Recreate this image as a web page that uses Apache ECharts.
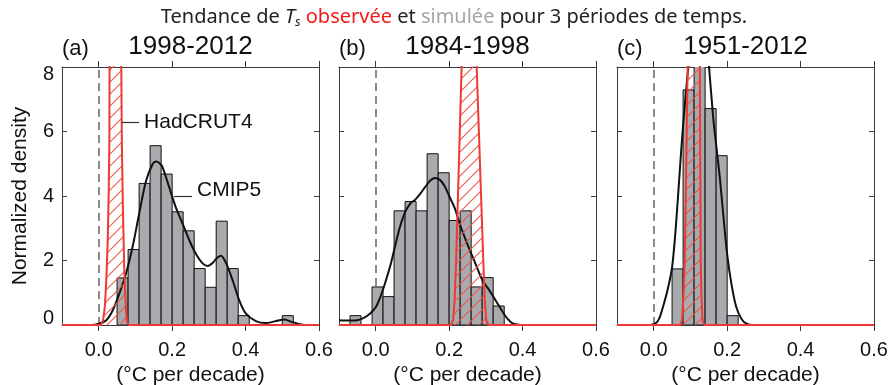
<!DOCTYPE html>
<html style="height: 100%">
<head>
<meta charset="utf-8">
<title>Tendance de Ts</title>
<script src="https://cdn.jsdelivr.net/npm/echarts@6/dist/echarts.min.js"></script>
</head>
<body style="height: 100%; margin: 0; background: #fff">
<div id="target" style="width: 891px; height: 385px"></div>
<script>
// histogram bins: left edge (bin width 0.03) and normalized density
const binWidth = 0.03;
const binsA = [0.05, 0.08, 0.11, 0.14, 0.17, 0.20, 0.23, 0.26, 0.29, 0.32, 0.35, 0.38, 0.50];
const histA = [1.46, 2.34, 4.39, 5.56, 4.68, 3.51, 2.92, 1.75, 1.17, 3.22, 1.75, 0.29, 0.29];
const binsB = [-0.07, -0.01, 0.02, 0.05, 0.08, 0.11, 0.14, 0.17, 0.20, 0.23, 0.26, 0.29, 0.32];
const histB = [0.29, 1.18, 0.88, 3.54, 3.83, 3.54, 5.31, 4.72, 3.24, 3.54, 1.18, 1.47, 0.59];
const binsC = [0.05, 0.08, 0.11, 0.14, 0.17, 0.20];
const histC = [1.74, 7.29, 12.2, 6.71, 5.25, 0.29];

// CMIP5 density curves [trend, density]
const kdeA = [[-0.1,0],[-0.02,0],[0,0.04],[0.02,0.14],[0.038,0.45],[0.056,0.97],[0.074,1.58],[0.092,2.41],[0.11,3.44],[0.129,4.47],[0.147,4.99],[0.156,5.07],[0.165,5.02],[0.174,4.89],[0.192,4.27],[0.21,3.65],[0.229,3.13],[0.247,2.62],[0.265,2.2],[0.283,1.91],[0.297,1.83],[0.31,1.92],[0.322,2.08],[0.333,2.15],[0.346,1.94],[0.365,1.38],[0.383,0.76],[0.401,0.35],[0.428,0.12],[0.455,0.06],[0.482,0.12],[0.505,0.17],[0.528,0.09],[0.555,0.01],[0.6,0]];
const kdeB = [[-0.1,0.15],[-0.07,0.14],[-0.05,0.15],[-0.03,0.24],[-0.015,0.36],[0,0.55],[0.012,0.85],[0.025,1.28],[0.04,1.85],[0.052,2.41],[0.065,3.0],[0.08,3.5],[0.095,3.78],[0.107,3.88],[0.12,4.05],[0.134,4.27],[0.148,4.47],[0.161,4.56],[0.175,4.5],[0.188,4.3],[0.2,4.0],[0.216,3.6],[0.23,3.1],[0.243,2.7],[0.257,2.3],[0.27,1.95],[0.291,1.38],[0.305,1.15],[0.318,0.92],[0.33,0.7],[0.345,0.42],[0.36,0.18],[0.373,0.05],[0.39,0.01],[0.42,0],[0.6,0]];
const kdeC = [[-0.1,0],[-0.01,0],[0.005,0.05],[0.015,0.2],[0.025,0.55],[0.038,1.1],[0.05,1.79],[0.06,3.0],[0.071,4.78],[0.078,5.9],[0.085,6.85],[0.096,8.2],[0.11,9.6],[0.125,10.2],[0.14,9.4],[0.15,8.1],[0.162,6.43],[0.171,5.5],[0.18,4.58],[0.19,3.35],[0.2,2.2],[0.212,1.25],[0.225,0.55],[0.24,0.17],[0.253,0.04],[0.27,0],[0.6,0]];

// HadCRUT4 observed trend density (clipped above 8)
const obsA = [[-0.1,0],[0.006,0],[0.012,0.15],[0.017,0.6],[0.021,1.5],[0.0245,2.6],[0.027,4],[0.029,5.7],[0.0295,8],[0.031,14],[0.06,14],[0.0615,8],[0.063,5.7],[0.066,3.5],[0.07,1.6],[0.074,0.5],[0.077,0.1],[0.082,0],[0.6,0]];
const obsB = [[-0.1,0],[0.205,0],[0.211,0.15],[0.215,0.8],[0.219,2],[0.224,4],[0.229,6],[0.234,8],[0.237,14],[0.272,14],[0.275,8],[0.281,6],[0.287,4],[0.293,2],[0.297,0.8],[0.301,0.15],[0.307,0],[0.6,0]];
const obsC = [[-0.1,0],[0.072,0],[0.077,0.15],[0.081,0.9],[0.0845,2],[0.088,4.5],[0.091,7],[0.0925,8],[0.095,14],[0.123,14],[0.1255,8],[0.126,7],[0.127,4.5],[0.128,2],[0.13,0.9],[0.133,0.15],[0.138,0],[0.6,0]];

const panelLabels = ["(a)", "(b)", "(c)"];
const periods = ["1998-2012", "1984-1998", "1951-2012"];
const xTicks = [0, 0.2, 0.4, 0.6];

let chart = echarts.init(document.getElementById('target'));

// hatch pattern for the observed density
let hatch = document.createElement('canvas');
hatch.width = 12;
hatch.height = 12;
{
    let ctx = hatch.getContext('2d');
    ctx.strokeStyle = '#f2554c';
    ctx.lineWidth = 1.1;
    ctx.beginPath();
    ctx.moveTo(0, 12); ctx.lineTo(12, 0);
    ctx.moveTo(-6, 6); ctx.lineTo(6, -6);
    ctx.moveTo(6, 18); ctx.lineTo(18, 6);
    ctx.stroke();
}

const FONT = 'Liberation Sans';
const frame = '#3c3c3c';
const lefts = [62, 339, 617];
const gw = 257, gtop = 67, gh = 258;

let grids = [], xAxes = [], yAxes = [], series = [], graphics = [];
let hist = [[binsA, histA], [binsB, histB], [binsC, histC]];
let kde = [kdeA, kdeB, kdeC];
let obs = [obsA, obsB, obsC];

for (let i = 0; i < 3; ++i)
{
    grids.push({ left: lefts[i], top: gtop, width: gw, height: gh, outerBoundsMode: 'none', containLabel: false });

    // bottom and top x axes
    xAxes.push({
        gridIndex: i, type: 'value', min: -0.1, max: 0.6, position: 'bottom',
        name: '(°C per decade)', nameLocation: 'middle', nameGap: 38,
        nameTextStyle: { fontFamily: FONT, fontSize: 21, color: '#111' },
        axisLine: { onZero: false, lineStyle: { color: frame, width: 1 } },
        axisTick: { show: true, inside: false, length: 6, customValues: xTicks, lineStyle: { color: frame } },
        axisLabel: { customValues: xTicks, margin: 15, fontFamily: FONT, fontSize: 20, color: '#111',
                     formatter: v => v.toFixed(1) },
        splitLine: { show: false },
    });
    xAxes.push({
        gridIndex: i, type: 'value', min: -0.1, max: 0.6, position: 'top',
        axisLine: { onZero: false, lineStyle: { color: frame, width: 1 } },
        axisTick: { show: true, inside: false, length: 6, customValues: xTicks, lineStyle: { color: frame } },
        axisLabel: { show: false },
        splitLine: { show: false },
    });

    // left and right y axes
    yAxes.push({
        gridIndex: i, type: 'value', min: 0, max: 8, interval: 2, position: 'left',
        name: i == 0 ? 'Normalized density' : '', nameLocation: 'middle', nameGap: 31,
        nameTextStyle: { fontFamily: FONT, fontSize: 21, color: '#111' },
        axisLine: { show: true, onZero: false, lineStyle: { color: frame, width: 1 } },
        axisTick: { show: true, inside: true, length: 5, lineStyle: { color: frame } },
        axisLabel: {
            show: i == 0, margin: 8, fontFamily: FONT, fontSize: 20, color: '#111',
            formatter: v => v == 8 ? '{t|8}' : (v == 0 ? '{b|0}' : String(v)),
            rich: {
                t: { fontFamily: FONT, fontSize: 20, color: '#111', padding: [15, 0, 0, 0] },
                b: { fontFamily: FONT, fontSize: 20, color: '#111', padding: [0, 0, 13, 0] },
            },
        },
        splitLine: { show: false },
    });
    yAxes.push({
        gridIndex: i, type: 'value', min: 0, max: 8, interval: 2, position: 'right',
        axisLine: { show: true, onZero: false, lineStyle: { color: frame, width: 1 } },
        axisTick: { show: true, inside: true, length: 5, lineStyle: { color: frame } },
        axisLabel: { show: false },
        splitLine: { show: false },
    });

    let [bins, heights] = hist[i];

    // histogram of simulated trends
    series.push({
        type: 'custom', xAxisIndex: 2 * i, yAxisIndex: 2 * i, clip: true, z: 2,
        data: bins.map((b, k) => [b, b + binWidth, heights[k]]),
        encode: { x: [0, 1], y: 2 },
        renderItem: (params, api) => {
            let p0 = api.coord([api.value(0), api.value(2)]);
            let p1 = api.coord([api.value(1), 0]);
            return {
                type: 'rect',
                shape: { x: p0[0], y: p0[1], width: p1[0] - p0[0], height: p1[1] - p0[1] },
                style: { fill: '#a8aaad', stroke: '#111', lineWidth: 1 },
            };
        },
        markLine: {
            silent: true, symbol: ['none', 'none'], z: 1,
            label: { show: false },
            lineStyle: { color: '#666', type: [8, 5], width: 1.5 },
            data: [{ xAxis: 0 }],
        },
    });

    // CMIP5 density
    let kdeSeries = {
        type: 'line', xAxisIndex: 2 * i, yAxisIndex: 2 * i, z: 3,
        data: kde[i], smooth: 0.3, showSymbol: false, symbol: 'none',
        lineStyle: { color: '#111', width: 2 },
    };
    if (i == 0)
    {
        kdeSeries.markLine = {
            silent: true, symbol: ['none', 'none'],
            lineStyle: { color: '#333', type: 'solid', width: 1.2 },
            label: { show: true, position: 'end', distance: 5, fontFamily: FONT, fontSize: 21, color: '#111' },
            data: [
                [{ coord: [0.063, 6.3] }, { coord: [0.11, 6.3], label: { formatter: 'HadCRUT4' } }],
                [{ coord: [0.205, 4.0] }, { coord: [0.254, 4.0], label: { formatter: 'CMIP5', offset: [0, -6] } }],
            ],
        };
    }
    series.push(kdeSeries);

    // observed density, hatched
    series.push({
        type: 'line', xAxisIndex: 2 * i, yAxisIndex: 2 * i, z: 4,
        data: obs[i], showSymbol: false, symbol: 'none',
        color: '#ec3b33',
        lineStyle: { color: '#ec3b33', width: 2 },
        areaStyle: { color: { image: hatch, repeat: 'repeat' }, opacity: 1 },
    });

    graphics.push({
        type: 'text', x: lefts[i], y: 49,
        style: { text: panelLabels[i], font: '22px "' + FONT + '"', fill: '#111', align: 'left', verticalAlign: 'middle' },
    });
    graphics.push({
        type: 'text', x: lefts[i] + gw / 2, y: 47,
        style: { text: periods[i], font: '26px "' + FONT + '"', fill: '#111', align: 'center', verticalAlign: 'middle' },
    });
}

// main title
graphics.push({
    type: 'text', x: 454, y: 17,
    style: {
        text: '{n|Tendance de }{i|T}{s|s}{r| observée}{n| et }{g|simulée}{n| pour 3 périodes de temps.}',
        align: 'center', verticalAlign: 'middle',
        rich: {
            n: { fontFamily: 'Noto Sans', fontSize: 20, fill: '#222', lineHeight: 24 },
            i: { fontFamily: 'Noto Sans', fontSize: 20, fontStyle: 'italic', fill: '#222', lineHeight: 24 },
            s: { fontFamily: 'Noto Sans', fontSize: 13, fontStyle: 'italic', fill: '#222', lineHeight: 24, verticalAlign: 'bottom' },
            r: { fontFamily: 'Noto Sans', fontSize: 20, fill: '#f01c1c', lineHeight: 24 },
            g: { fontFamily: 'Noto Sans', fontSize: 20, fill: '#a6a6a6', lineHeight: 24 },
        },
    },
});

chart.setOption({
    animation: false,
    backgroundColor: '#fff',
    grid: grids,
    xAxis: xAxes,
    yAxis: yAxes,
    series: series,
    graphic: graphics,
});
</script>
</body>
</html>
